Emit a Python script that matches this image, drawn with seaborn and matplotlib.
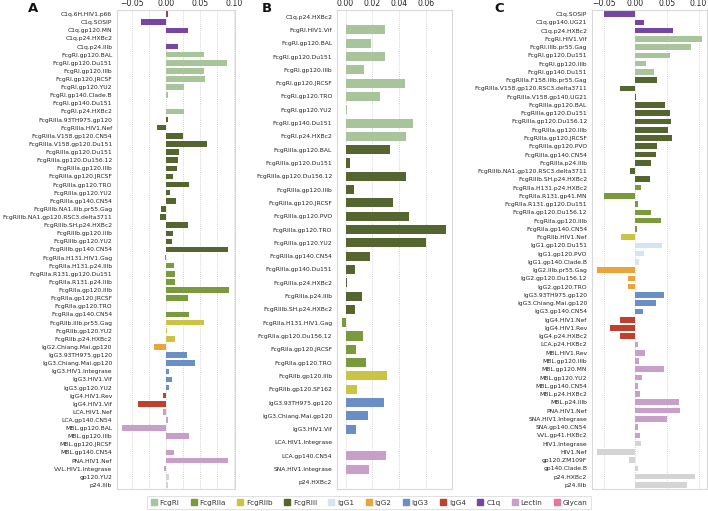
import matplotlib
matplotlib.use("Agg")
import matplotlib.pyplot as plt
from matplotlib.lines import Line2D
from matplotlib.ticker import MultipleLocator, FixedLocator
import seaborn as sns
import pandas as pd

# ---------------- data ----------------
A_labels = ["C1q.6H.HIV1.p66", "C1q.SOSIP", "C1q.gp120.MN", "C1q.p24.HXBc2", "C1q.p24.IIIb",
            "FcgRI.gp120.BAL", "FcgRI.gp120.Du151", "FcgRI.gp120.IIIb", "FcgRI.gp120.JRCSF",
            "FcgRI.gp120.YU2", "FcgRI.gp140.Clade.B", "FcgRI.gp140.Du151", "FcgRI.p24.HXBc2",
            "FcgRIIIa.93TH975.gp120", "FcgRIIIa.HIV1.Nef", "FcgRIIIa.V158.gp120.CN54",
            "FcgRIIIa.V158.gp120.Du151", "FcgRIIIa.gp120.Du151", "FcgRIIIa.gp120.Du156.12",
            "FcgRIIIa.gp120.IIIb", "FcgRIIIa.gp120.JRCSF", "FcgRIIIa.gp120.TRO", "FcgRIIIa.gp120.YU2",
            "FcgRIIIa.gp140.CN54", "FcgRIIIb.NA1.IIIb.pr55.Gag", "FcgRIIIb.NA1.gp120.RSC3.delta3711",
            "FcgRIIIb.SH.p24.HXBc2", "FcgRIIIb.gp120.IIIb", "FcgRIIIb.gp120.YU2", "FcgRIIIb.gp140.CN54",
            "FcgRIIa.H131.HIV1.Gag", "FcgRIIa.H131.p24.IIIb", "FcgRIIa.R131.gp120.Du151",
            "FcgRIIa.R131.p24.IIIb", "FcgRIIa.gp120.IIIb", "FcgRIIa.gp120.JRCSF", "FcgRIIa.gp120.TRO",
            "FcgRIIa.gp140.CN54", "FcgRIIb.IIIb.pr55.Gag", "FcgRIIb.gp120.YU2", "FcgRIIb.p24.HXBc2",
            "IgG2.Chiang.Mai.gp120", "IgG3.93TH975.gp120", "IgG3.Chiang.Mai.gp120",
            "IgG3.HIV1.Integrase", "IgG3.HIV1.Vif", "IgG3.gp120.YU2", "IgG4.HIV1.Rev", "IgG4.HIV1.Vif",
            "LCA.HIV1.Nef", "LCA.gp140.CN54", "MBL.gp120.BAL", "MBL.gp120.IIIb", "MBL.gp120.JRCSF",
            "MBL.gp140.CN54", "PNA.HIV1.Nef", "VVL.HIV1.Integrase", "gp120.YU2", "p24.IIIb"]
A_values = [0.003, -0.036, 0.033, 0.0, 0.0175,
            0.056, 0.090, 0.056, 0.057,
            0.027, 0.0035, 0.0, 0.027,
            0.003, -0.0135, 0.0255,
            0.061, 0.0195, 0.018,
            0.0165, 0.010, 0.034, 0.0065,
            0.0145, -0.0075, -0.0085,
            0.0325, 0.0105, 0.009, 0.091,
            -0.002, 0.0125, 0.014,
            0.0135, 0.093, 0.0325, 0.0,
            0.0345, 0.0565, 0.0015, 0.013,
            -0.017, 0.0315, 0.0425,
            0.0045, 0.0085, 0.005, -0.0045, -0.0415,
            -0.004, 0.003, -0.064, 0.0335, 0.0,
            0.012, 0.092, -0.0035, 0.005, 0.003]

B_labels = ["C1q.p24.HXBc2", "FcgRI.HIV1.Vif", "FcgRI.gp120.BAL", "FcgRI.gp120.Du151",
            "FcgRI.gp120.IIIb", "FcgRI.gp120.JRCSF", "FcgRI.gp120.TRO", "FcgRI.gp120.YU2",
            "FcgRI.gp140.Du151", "FcgRI.p24.HXBc2", "FcgRIIIa.gp120.BAL", "FcgRIIIa.gp120.Du151",
            "FcgRIIIa.gp120.Du156.12", "FcgRIIIa.gp120.IIIb", "FcgRIIIa.gp120.JRCSF",
            "FcgRIIIa.gp120.PVO", "FcgRIIIa.gp120.TRO", "FcgRIIIa.gp120.YU2", "FcgRIIIa.gp140.CN54",
            "FcgRIIIa.gp140.Du151", "FcgRIIIa.p24.HXBc2", "FcgRIIIa.p24.IIIb", "FcgRIIIb.SH.p24.HXBc2",
            "FcgRIIa.H131.HIV1.Gag", "FcgRIIa.gp120.Du156.12", "FcgRIIa.gp120.JRCSF",
            "FcgRIIa.gp120.TRO", "FcgRIIb.gp120.IIIb", "FcgRIIb.gp120.SF162", "IgG3.93TH975.gp120",
            "IgG3.Chiang.Mai.gp120", "IgG3.HIV1.Vif", "LCA.HIV1.Integrase", "LCA.gp140.CN54",
            "SNA.HIV1.Integrase", "p24.HXBc2"]
B_values = [0.0006, 0.029, 0.019, 0.029,
            0.014, 0.044, 0.026, 0.0008,
            0.050, 0.045, 0.033, 0.003,
            0.045, 0.006, 0.035,
            0.0475, 0.075, 0.060, 0.018,
            0.0072, 0.0012, 0.0124, 0.007,
            -0.0025, 0.0132, 0.008,
            0.015, 0.0308, 0.0085, 0.0289,
            0.0164, 0.0075, 0.0, 0.0303,
            0.0177, 0.0]

C_labels = ["C1q.SOSIP", "C1q.gp140.UG21", "C1q.p24.HXBc2", "FcgRI.HIV1.Vif", "FcgRI.IIIb.pr55.Gag",
            "FcgRI.gp120.Du151", "FcgRI.gp120.IIIb", "FcgRI.gp140.Du151", "FcgRIIIa.F158.IIIb.pr55.Gag",
            "FcgRIIIa.V158.gp120.RSC3.delta3711", "FcgRIIIa.V158.gp140.UG21", "FcgRIIIa.gp120.BAL",
            "FcgRIIIa.gp120.Du151", "FcgRIIIa.gp120.Du156.12", "FcgRIIIa.gp120.IIIb",
            "FcgRIIIa.gp120.JRCSF", "FcgRIIIa.gp120.PVO", "FcgRIIIa.gp140.CN54", "FcgRIIIa.p24.IIIb",
            "FcgRIIIb.NA1.gp120.RSC3.delta3711", "FcgRIIIb.SH.p24.HXBc2", "FcgRIIa.H131.p24.HXBc2",
            "FcgRIIa.R131.gp41.MN", "FcgRIIa.R131.gp120.Du151", "FcgRIIa.gp120.Du156.12",
            "FcgRIIa.gp120.IIIb", "FcgRIIa.gp140.CN54", "FcgRIIb.HIV1.Nef", "IgG1.gp120.Du151",
            "IgG1.gp120.PVO", "IgG1.gp140.Clade.B", "IgG2.IIIb.pr55.Gag", "IgG2.gp120.Du156.12",
            "IgG2.gp120.TRO", "IgG3.93TH975.gp120", "IgG3.Chiang.Mai.gp120", "IgG3.gp140.CN54",
            "IgG4.HIV1.Nef", "IgG4.HIV1.Rev", "IgG4.p24.HXBc2", "LCA.p24.HXBc2", "MBL.HIV1.Rev",
            "MBL.gp120.IIIb", "MBL.gp120.MN", "MBL.gp120.YU2", "MBL.gp140.CN54", "MBL.p24.HXBc2",
            "MBL.p24.IIIb", "PNA.HIV1.Nef", "SNA.HIV1.Integrase", "SNA.gp140.CN54", "VVL.gp41.HXBc2",
            "HIV1.Integrase", "HIV1.Nef", "gp120.ZM109F", "gp140.Clade.B", "p24.HXBc2", "p24.IIIb"]
C_values = [-0.049, 0.014, 0.059, 0.105, 0.088,
            0.055, 0.017, 0.029, 0.034,
            -0.024, 0.0006, 0.047,
            0.055, 0.057, 0.052,
            0.058, 0.034, 0.033, 0.025,
            -0.009, 0.024, 0.0095,
            -0.050, 0.005, 0.025,
            0.0405, 0.002, -0.023, 0.0425,
            0.0135, 0.0065, -0.060, -0.0115,
            -0.012, 0.045, 0.0335, 0.012,
            -0.024, -0.0405, -0.0235, 0.005, 0.016,
            0.006, 0.046, 0.0105, 0.004, 0.008,
            0.0695, 0.0705, 0.050, 0.004, 0.0068,
            0.009, -0.060, -0.0105, 0.005, 0.095, 0.082]

legend_groups = ["FcgRI", "FcgRIIa", "FcgRIIb", "FcgRIII", "IgG1", "IgG2", "IgG3", "IgG4",
                 "C1q", "Lectin", "Glycan"]
group_colors = ["#a8c49b", "#7b9a3e", "#cbc343", "#55652f", "#d5e3f3", "#e9a43c", "#6b8ec6",
                "#c0402e", "#7646a0", "#c89fc9", "#e8749f"]
other_color = "#d4d4d4"

A_ticks = [-0.05, 0.0, 0.05, 0.10]
B_ticks = [0.0, 0.02, 0.04, 0.06]
C_ticks = [-0.05, 0.0, 0.05, 0.10]

# ---------------- helpers ----------------
lectins = {"LCA", "MBL", "PNA", "SNA", "VVL"}


def group_of(lbl):
    p = lbl.split(".")[0]
    if p.startswith("FcgRIII"):
        return "FcgRIII"
    if p in ("C1q", "FcgRI", "FcgRIIa", "FcgRIIb", "IgG1", "IgG2", "IgG3", "IgG4"):
        return p
    if p in lectins:
        return "Lectin"
    return "Other"


palette = dict(zip(legend_groups, group_colors))
palette["Other"] = other_color

sns.set_theme(style="whitegrid")
plt.rcParams["font.family"] = ["DejaVu Sans"]

W, H = 708, 511
fig = plt.figure(figsize=(W / 100, H / 100), dpi=100)


def make_panel(rect, labels, values, ticks, letter, letter_x, minor=None):
    l, r, t, b = rect
    ax = fig.add_axes([l / W, 1 - b / H, (r - l) / W, (b - t) / H])
    df = pd.DataFrame({"label": labels, "value": values,
                       "group": [group_of(s) for s in labels]})
    sns.barplot(data=df, x="value", y="label", hue="group", palette=palette,
                order=labels, dodge=False, orient="h", ax=ax, legend=False,
                width=0.68, saturation=1, linewidth=0)
    ax.set_xlabel("")
    ax.set_ylabel("")
    ax.xaxis.tick_top()
    ax.xaxis.set_major_locator(FixedLocator(ticks))
    ax.set_xticklabels([f"{v:.2f}".replace("-", "\u2212") for v in ticks])
    ax.tick_params(axis="x", labelsize=5.6, pad=1.5, length=0, colors="#222222")
    ax.tick_params(axis="y", labelsize=4.35, pad=3.5, length=0, colors="#222222")
    ax.grid(axis="y", visible=False)
    ax.grid(axis="x", which="major", linestyle=(0, (1, 1.5)), color="#c8c8c8", linewidth=0.6)
    if minor is not None:
        ax.xaxis.set_minor_locator(MultipleLocator(minor))
        ax.grid(axis="x", which="minor", linestyle=(0, (1, 1.5)), color="#c8c8c8", linewidth=0.6)
        ax.tick_params(axis="x", which="minor", length=0)
    ax.set_axisbelow(True)
    for sp in ax.spines.values():
        sp.set_color("#d9d9d9")
        sp.set_linewidth(0.8)
    fig.text(letter_x / W, 1 - 8 / H, letter, fontsize=9.5, fontweight="bold",
             ha="center", va="center", color="#111111")
    return ax


make_panel((117, 234.5, 10, 489), A_labels, A_values, A_ticks, "A", 33, minor=0.025)
make_panel((337, 451.5, 10, 489), B_labels, B_values, B_ticks, "B", 267)
make_panel((592, 707, 10, 489), C_labels, C_values, C_ticks, "C", 499)

handles = [Line2D([0], [0], marker="s", linestyle="none", markersize=4.2,
                  markerfacecolor=c, markeredgecolor=c) for c in group_colors]
leg = fig.legend(handles, legend_groups, loc="center", bbox_to_anchor=(369 / W, 1 - 502.5 / H),
                 ncol=len(legend_groups), fontsize=5.2, frameon=True, handletextpad=0.4,
                 columnspacing=1.6, borderpad=0.5, handlelength=0.8, fancybox=False)
leg.get_frame().set_edgecolor("#d9d9d9")
leg.get_frame().set_linewidth(0.7)
for t in leg.get_texts():
    t.set_color("#333333")

fig.savefig("out.png", dpi=100)
